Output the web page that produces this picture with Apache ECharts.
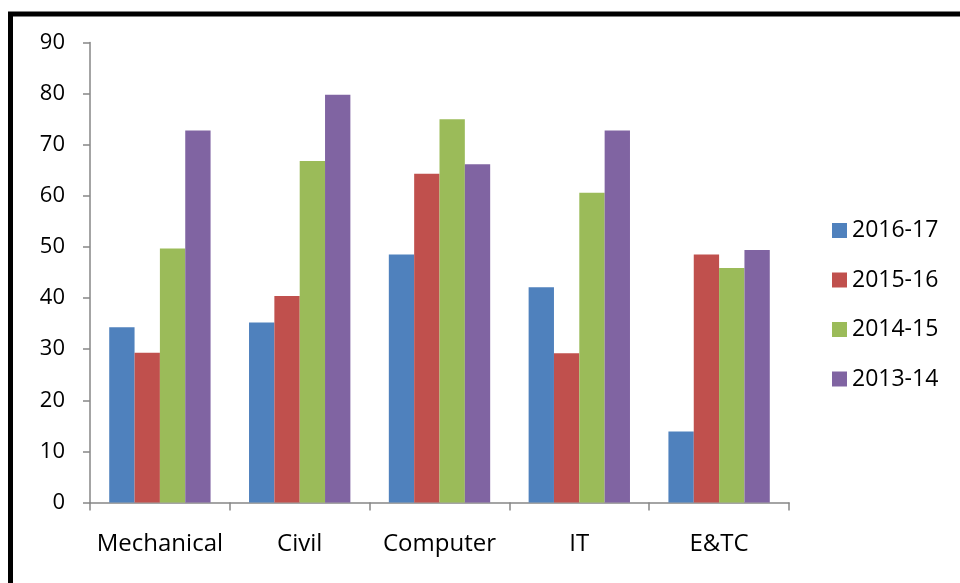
<!DOCTYPE html>
<html>
<head>
<meta charset="utf-8">
<script src="https://cdn.jsdelivr.net/npm/echarts@6/dist/echarts.min.js"></script>
<style>html,body{margin:0;padding:0;background:#fff}#c{width:960px;height:583px}</style>
</head>
<body>
<div id="c"></div>
<script>
var categories = ['Mechanical', 'Civil', 'Computer', 'IT', 'E&TC'];
var seriesNames = ['2016-17', '2015-16', '2014-15', '2013-14'];
var s2016_17 = [34.3, 35.2, 48.5, 42.1, 13.9];
var s2015_16 = [29.3, 40.4, 64.3, 29.2, 48.5];
var s2014_15 = [49.7, 66.8, 75.0, 60.6, 45.9];
var s2013_14 = [72.8, 79.8, 66.2, 72.8, 49.4];
var yTicks = [0, 10, 20, 30, 40, 50, 60, 70, 80, 90];

var colors = ['#4F81BD', '#C0504D', '#9BBB59', '#8064A2'];
var allData = [s2016_17, s2015_16, s2014_15, s2013_14];
var font = '"Open Sans", "Noto Sans", sans-serif';
var axisGray = '#868686';

var chart = echarts.init(document.getElementById('c'));
chart.setOption({
  animation: false,
  color: colors,
  graphic: [{
    type: 'rect',
    shape: { x: 10.5, y: 14, width: 1000, height: 1000 },
    style: { fill: 'none', stroke: '#000', lineWidth: 5 },
    silent: true
  }],
  grid: { left: 90, top: 42.5, right: 171, bottom: 80.5, containLabel: false },
  legend: {
    orient: 'vertical',
    left: 832,
    top: 219,
    padding: 0,
    itemWidth: 15,
    itemHeight: 15,
    itemGap: 26.5,
    itemTextGap: 9,
    icon: 'rect',
    textStyle: { fontFamily: font, fontSize: 23, color: '#000', lineHeight: 22 },
    data: seriesNames
  },
  xAxis: {
    type: 'category',
    data: categories,
    axisLine: { lineStyle: { color: axisGray, width: 1.5 } },
    axisTick: { show: true, interval: 0, length: 8, lineStyle: { color: axisGray, width: 1.5 } },
    axisLabel: { interval: 0, fontFamily: font, fontSize: 24, color: '#000', margin: 30 },
    splitLine: { show: false }
  },
  yAxis: {
    type: 'value',
    min: yTicks[0],
    max: yTicks[yTicks.length - 1],
    interval: 10,
    axisLine: { show: true, lineStyle: { color: axisGray, width: 1.5 } },
    axisTick: { show: true, length: 7, lineStyle: { color: axisGray, width: 1.5 } },
    axisLabel: { fontFamily: font, fontSize: 22, color: '#000', margin: 25 },
    splitLine: { show: false }
  },
  series: seriesNames.map(function (n, i) {
    return {
      name: n,
      type: 'bar',
      data: allData[i],
      barGap: '0%',
      barCategoryGap: '27.5%',
      itemStyle: { color: colors[i] }
    };
  })
});
</script>
</body>
</html>
